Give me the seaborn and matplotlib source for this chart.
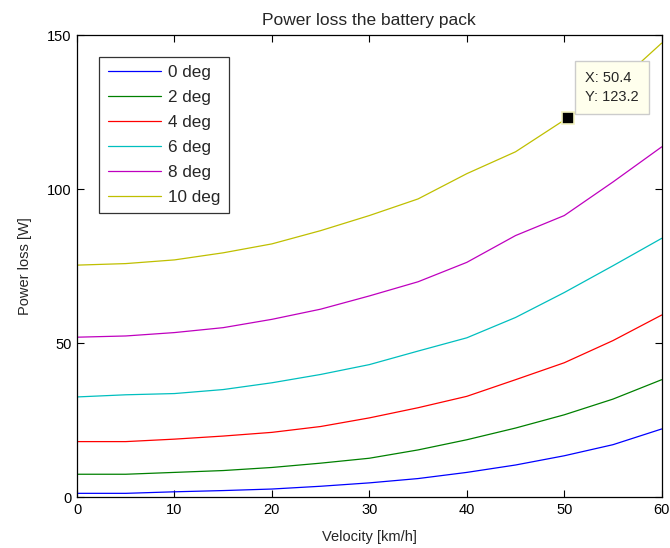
import numpy as np
import pandas as pd

import matplotlib
matplotlib.use('Agg')

import matplotlib.pyplot as plt
import seaborn as sns

# Velocity grid and power loss per tilt angle
velocity = [0, 5, 10, 15, 20, 25, 30, 35, 40, 45, 50, 55, 60]
loss_0deg = [1.2, 1.2, 1.7, 2.1, 2.6, 3.5, 4.6, 6.0, 8.0, 10.4, 13.4, 17.0, 22.1]
loss_2deg = [7.4, 7.4, 8.0, 8.6, 9.6, 11.0, 12.6, 15.3, 18.6, 22.4, 26.7, 31.8, 38.1]
loss_4deg = [18.0, 18.0, 18.8, 19.8, 21.0, 22.9, 25.7, 29.0, 32.7, 38.1, 43.6, 50.8, 59.1]
loss_6deg = [32.5, 33.2, 33.6, 34.9, 37.1, 39.8, 43.0, 47.4, 51.7, 58.3, 66.4, 75.1, 84.0]
loss_8deg = [51.9, 52.3, 53.4, 55.0, 57.7, 61.0, 65.3, 69.9, 76.2, 84.9, 91.4, 102.3, 113.7]
loss_10deg = [75.3, 75.8, 77.0, 79.3, 82.2, 86.5, 91.4, 96.8, 105.0, 112.1, 122.4, 133.0, 147.4]
labels = ["0 deg", "2 deg", "4 deg", "6 deg", "8 deg", "10 deg"]

# data tip
tip_x = 50.4
tip_y = 123.2

series = [loss_0deg, loss_2deg, loss_4deg, loss_6deg, loss_8deg, loss_10deg]
df = pd.concat([pd.DataFrame({"Velocity": velocity, "Loss": s, "Angle": lab})
                for s, lab in zip(series, labels)], ignore_index=True)

# MATLAB classic colour order
palette = [(0, 0, 1), (0, 0.5, 0), (1, 0, 0), (0, 0.75, 0.75), (0.75, 0, 0.75), (0.75, 0.75, 0)]

sns.set_style("white")
plt.rcParams['font.family'] = ['Liberation Sans', 'DejaVu Sans']
plt.rcParams['font.size'] = 10.5

fig = plt.figure(figsize=(6.7, 5.48), dpi=100)
ax = fig.add_axes([0.115, 0.093, 0.8726, 0.843])

sns.lineplot(data=df, x="Velocity", y="Loss", hue="Angle", palette=palette,
             linewidth=0.9, ax=ax)

ax.set_xlim(0, 60)
ax.set_ylim(0, 150)
ax.set_xticks([0, 10, 20, 30, 40, 50, 60])
ax.set_yticks([0, 50, 100, 150])
ax.tick_params(direction='in', length=5, width=0.8, top=True, right=True,
               bottom=True, left=True, labelsize=10.5, colors='black', pad=4)
for sp in ax.spines.values():
    sp.set_color('black')
    sp.set_linewidth(0.9)

ax.set_xlabel("Velocity [km/h]", fontsize=10.5, labelpad=10)
ax.set_ylabel("Power loss [W]", fontsize=10.5, labelpad=11)
ax.set_title("Power loss the battery pack", fontsize=12.5, pad=7)

leg = ax.legend(loc='upper left', bbox_to_anchor=(0.038, 0.953), frameon=True,
                fancybox=False, edgecolor='black', fontsize=12.3,
                handlelength=3.1, handletextpad=0.4, labelspacing=0.58,
                borderpad=0.5, borderaxespad=0)
leg.get_frame().set_linewidth(0.9)

# data tip marker and box
ax.plot([tip_x], [tip_y], marker='s', markersize=8, color='black',
        markeredgecolor=(0.95, 0.95, 0.75), markeredgewidth=1.2, zorder=5)
ax.annotate("X: %.1f\nY: %.1f" % (tip_x, tip_y), xy=(tip_x, tip_y),
            xytext=(12, 10), textcoords='offset points', fontsize=10.5,
            linespacing=1.45, va='bottom', ha='left', zorder=6,
            bbox=dict(boxstyle='square,pad=0.7', fc=(1, 1, 0.93), ec=(0.8, 0.8, 0.8), lw=1))

fig.savefig("out.png", dpi=100)
plt.close()
